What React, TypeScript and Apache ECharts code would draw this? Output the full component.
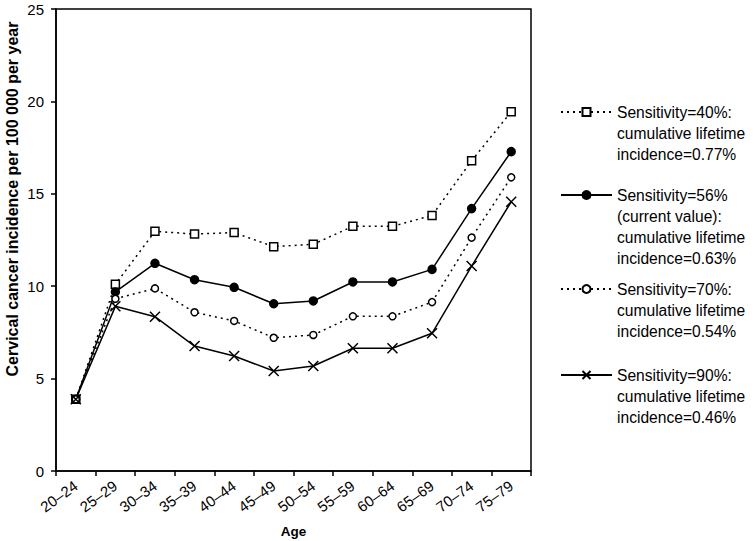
import React, { useEffect, useRef } from "react";
import * as echarts from "echarts";

const categories = ["20–24", "25–29", "30–34", "35–39", "40–44", "45–49", "50–54", "55–59", "60–64", "65–69", "70–74", "75–79"];
const sens40 = [3.88, 10.1, 12.97, 12.82, 12.9, 12.14, 12.27, 13.24, 13.24, 13.83, 16.79, 19.44];
const sens56 = [3.88, 9.69, 11.24, 10.35, 9.94, 9.05, 9.2, 10.23, 10.23, 10.91, 14.2, 17.28];
const sens70 = [3.88, 9.32, 9.88, 8.59, 8.12, 7.21, 7.36, 8.37, 8.37, 9.14, 12.63, 15.89];
const sens90 = [3.88, 8.91, 8.35, 6.76, 6.22, 5.41, 5.68, 6.64, 6.64, 7.45, 11.09, 14.57];
const seriesNames = [
  "Sensitivity=40%:\ncumulative lifetime\nincidence=0.77%",
  "Sensitivity=56%\n(current value):\ncumulative lifetime\nincidence=0.63%",
  "Sensitivity=70%:\ncumulative lifetime\nincidence=0.54%",
  "Sensitivity=90%:\ncumulative lifetime\nincidence=0.46%",
];
const yTitle = "Cervical cancer incidence per 100 000 per year";
const xTitle = "Age";
const yTicks = { min: 0, max: 25, interval: 5 };

const FONT = "'Liberation Sans', Arial, Helvetica, sans-serif";
const LH = 21;

export default function App() {
  const ref = useRef<HTMLDivElement>(null);
  useEffect(() => {
    if (!ref.current) return;
    const chart = echarts.init(ref.current, undefined, { renderer: "svg" });
    const firstLineCenters = [112, 195, 289, 375];
    const legends = seriesNames.map((name, i) => {
      const n = name.split("\n").length;
      return {
        data: [name],
        left: 560,
        top: firstLineCenters[i] - ((2 * n - 1) * LH) / 2,
        orient: "vertical",
        itemWidth: 51,
        itemHeight: 10,
        selectedMode: false,
        padding: 0,
        formatter: (nm: string) => "\n".repeat(n - 1) + nm,
        textStyle: {
          fontFamily: FONT,
          fontSize: 15.6,
          color: "#000",
          lineHeight: LH,
        },
      };
    });
    const mk = (
      name: string,
      data: number[],
      symbol: string,
      size: number,
      fill: string,
      dotted: boolean
    ) => ({
      name,
      type: "line",
      data,
      symbol,
      symbolSize: size,
      showAllSymbol: true,
      lineStyle: { color: "#000", width: 1.5, type: dotted ? [2, 4] : "solid" },
      itemStyle: { color: fill, borderColor: "#000", borderWidth: 1.5 },
      z: 3,
    });
    chart.setOption({
      animation: false,
      backgroundColor: "#fff",
      textStyle: { fontFamily: FONT },
      grid: {
        left: 56,
        right: 223,
        top: 9,
        bottom: 70,
        outerBoundsMode: "none",
        containLabel: false,
        show: true,
        borderColor: "#000",
        borderWidth: 1.5,
        backgroundColor: "transparent",
      },
      legend: legends,
      graphic: [
        {
          type: "text",
          x: 12,
          y: 199,
          rotation: Math.PI / 2,
          style: {
            text: yTitle,
            fontFamily: FONT,
            fontSize: 16,
            fontWeight: "bold",
            fill: "#000",
            align: "center",
            verticalAlign: "middle",
          },
        },
      ],
      xAxis: {
        type: "category",
        data: categories,
        boundaryGap: true,
        name: xTitle,
        nameLocation: "middle",
        nameGap: 53,
        nameTextStyle: { fontFamily: FONT, fontSize: 13.5, fontWeight: "bold", color: "#000" },
        axisLine: { lineStyle: { color: "#000", width: 1.5 } },
        axisTick: { show: true, inside: false, length: 5, lineStyle: { color: "#000", width: 1.5 } },
        axisLabel: { rotate: 36, fontFamily: FONT, fontSize: 15, color: "#000", margin: 13, interval: 0 },
        splitLine: { show: false },
      },
      yAxis: {
        type: "value",
        min: yTicks.min,
        max: yTicks.max,
        interval: yTicks.interval,
        axisLine: { show: true, lineStyle: { color: "#000", width: 1.5 } },
        axisTick: { show: true, inside: false, length: 5, lineStyle: { color: "#000", width: 1.5 } },
        axisLabel: { fontFamily: FONT, fontSize: 15, color: "#000", margin: 12 },
        splitLine: { show: false },
      },
      series: [
        mk(seriesNames[0], sens40, "rect", 8, "#fff", true),
        mk(seriesNames[1], sens56, "circle", 8, "#000", false),
        mk(seriesNames[2], sens70, "circle", 7, "#fff", true),
        mk(seriesNames[3], sens90, "path://M0,0L10,10M10,0L0,10", 10, "#000", false),
      ],
    });
    return () => chart.dispose();
  }, []);
  return <div ref={ref} style={{ width: 754, height: 541, position: "absolute", left: 0, top: 0 }} />;
}
